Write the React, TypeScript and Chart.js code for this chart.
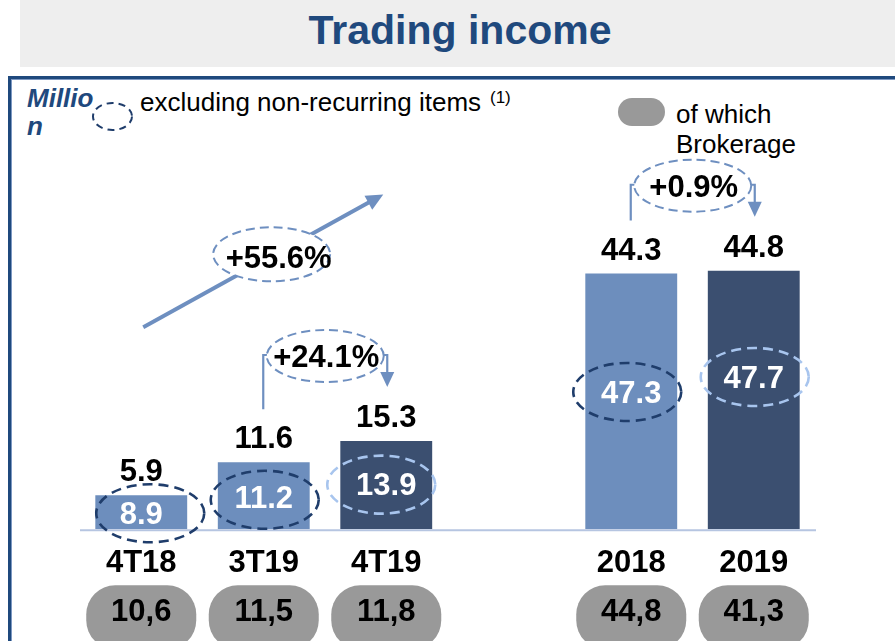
import React, { useEffect, useRef } from 'react';
import { Chart, registerables } from 'chart.js';

Chart.register(...registerables);

// ---- data ----
const categories = ['4T18', '3T19', '4T19', '', '2018', '2019'];
const tradingIncome: (number | null)[] = [5.9, 11.6, 15.3, null, 44.3, 44.8];
const excludingNonRecurring: (number | null)[] = [8.9, 11.2, 13.9, null, 47.3, 47.7];
const brokerage: (number | null)[] = [10.6, 11.5, 11.8, null, 44.8, 41.3];
const growthLabels = ['+55.6%', '+24.1%', '+0.9%'];
const growthFrom = [0, 1, 4];
const growthTo = [2, 2, 5];

// ---- styles ----
const FONT = '"Liberation Sans", Arial, Helvetica, sans-serif';
const LIGHT = '#6d8ebd';
const DARK = '#3b4f70';
const NAVY = '#1f3d6b';
const PALE = '#a8c5ee';
const STEEL = '#6e8fc0';
const TITLE_BLUE = '#1f497d';
const barColors = [LIGHT, LIGHT, DARK, LIGHT, LIGHT, DARK];
const ellipseColors = [NAVY, NAVY, PALE, NAVY, NAVY, PALE];
const innerNudgeY = [1, 1, -1.5, 0, -9.5, -23];
const ellipseDx = [9, 1, -5, 0, -4, 1];
const ellipseDy = [0, 3, 1, 0, 0, 0];
const growthKind = ['diagonal', 'bracket', 'bracket'];

function dashedEllipse(ctx: CanvasRenderingContext2D, x: number, y: number, rx: number, ry: number,
  color: string, lw: number, dash: number[], fill?: string) {
  ctx.save();
  ctx.beginPath();
  ctx.ellipse(x, y, rx, ry, 0, 0, Math.PI * 2);
  if (fill) { ctx.fillStyle = fill; ctx.fill(); }
  ctx.setLineDash(dash);
  ctx.lineWidth = lw;
  ctx.strokeStyle = color;
  ctx.stroke();
  ctx.restore();
}

function arrowHead(ctx: CanvasRenderingContext2D, tx: number, ty: number, angle: number, len: number, half: number, color: string) {
  ctx.save();
  ctx.translate(tx, ty);
  ctx.rotate(angle);
  ctx.beginPath();
  ctx.moveTo(0, 0);
  ctx.lineTo(-len, -half);
  ctx.lineTo(-len, half);
  ctx.closePath();
  ctx.fillStyle = color;
  ctx.fill();
  ctx.restore();
}

const annotPlugin = {
  id: 'annot',
  afterDatasetsDraw(chart: any) {
    const { ctx, chartArea, scales } = chart;
    const xs = scales.x;
    const ys = scales.y;
    const y0 = ys.getPixelForValue(0);
    const cx = (i: number) => xs.getPixelForValue(i);
    const barTop = (i: number) => ys.getPixelForValue(tradingIncome[i] as number);
    const labelTop = (i: number) => barTop(i) - 14 - 22;

    ctx.save();
    // baseline
    ctx.strokeStyle = '#b6c5e1';
    ctx.lineWidth = 2;
    ctx.beginPath();
    ctx.moveTo(chartArea.left, y0 + 1);
    ctx.lineTo(chartArea.right + 1, y0 + 1);
    ctx.stroke();

    ctx.textAlign = 'center';
    ctx.textBaseline = 'alphabetic';

    categories.forEach((c, i) => {
      const v = tradingIncome[i];
      if (v == null) return;
      const x = cx(i);
      const t = barTop(i);
      ctx.font = `bold 31px ${FONT}`;
      ctx.fillStyle = '#000';
      ctx.fillText(v.toFixed(1), x, t - 14);

      const ex = excludingNonRecurring[i];
      if (ex != null) {
        const cy = (t + y0) / 2 + innerNudgeY[i];
        dashedEllipse(ctx, x + ellipseDx[i], cy + ellipseDy[i], 54, 29, ellipseColors[i], 2.6, [10, 6]);
        ctx.fillStyle = '#fff';
        ctx.fillText(ex.toFixed(1), x, cy + 11);
      }

      ctx.fillStyle = '#000';
      ctx.fillText(c, x, y0 + 43);

      const b = brokerage[i];
      if (b != null) {
        ctx.beginPath();
        ctx.roundRect(x - 55, y0 + 56, 110, 64, 29);
        ctx.fillStyle = '#999999';
        ctx.fill();
        ctx.fillStyle = '#000';
        ctx.fillText(b.toFixed(1).replace('.', ','), x, y0 + 92);
      }
    });

    // growth annotations
    growthLabels.forEach((txt, k) => {
      const a = growthFrom[k];
      const b = growthTo[k];
      if (growthKind[k] === 'diagonal') {
        const x1 = cx(a) + 2, y1 = ys.getPixelForValue(35);
        const x2 = cx(b) - 3, y2 = ys.getPixelForValue(58);
        const ang = Math.atan2(y2 - y1, x2 - x1);
        ctx.strokeStyle = STEEL;
        ctx.lineWidth = 4;
        ctx.beginPath();
        ctx.moveTo(x1, y1);
        ctx.lineTo(x2 - Math.cos(ang) * 12, y2 - Math.sin(ang) * 12);
        ctx.stroke();
        arrowHead(ctx, x2, y2, ang, 17, 8, STEEL);
        const t = 0.535;
        const ecx = x1 + (x2 - x1) * t;
        const ecy = y1 + (y2 - y1) * t - 2;
        dashedEllipse(ctx, ecx, ecy, 58.5, 27, STEEL, 2, [9, 5], '#fff');
        ctx.font = `bold 31px ${FONT}`;
        ctx.fillStyle = '#000';
        ctx.fillText(txt, ecx + 7, ecy + 14);
      } else {
        const xa = cx(a) - 0.5;
        const xb = cx(b) + 1;
        const by = Math.min(labelTop(a), labelTop(b)) - 50;
        const tipY = labelTop(b) - 18;
        ctx.strokeStyle = STEEL;
        ctx.lineWidth = 2.2;
        ctx.beginPath();
        ctx.moveTo(xa, labelTop(a) - 17);
        ctx.lineTo(xa, by);
        ctx.lineTo(xb, by);
        ctx.lineTo(xb, tipY - 12);
        ctx.stroke();
        arrowHead(ctx, xb, tipY, Math.PI / 2, 15, 7, STEEL);
        const ecx = (xa + xb) / 2;
        dashedEllipse(ctx, ecx, by + 1, 58.5, 26, STEEL, 2, [9, 5], '#fff');
        ctx.font = `bold 31px ${FONT}`;
        ctx.fillStyle = '#000';
        ctx.fillText(txt, ecx + 1, by + 12);
      }
    });

    // legend ellipse icon
    dashedEllipse(ctx, 112.5, 116.5, 19.5, 13.5, NAVY, 2, [7, 5]);
    ctx.restore();
  },
};

export default function App() {
  const ref = useRef<HTMLCanvasElement | null>(null);

  useEffect(() => {
    if (!ref.current) return;
    const chart = new Chart(ref.current, {
      type: 'bar',
      data: {
        labels: categories,
        datasets: [
          {
            label: 'Trading income',
            data: tradingIncome as any,
            backgroundColor: barColors,
            borderWidth: 0,
            barPercentage: 0.75,
            categoryPercentage: 1,
          },
        ],
      },
      options: {
        responsive: false,
        animation: false,
        devicePixelRatio: 1,
        layout: { padding: { left: 80, right: 80, top: 183, bottom: 111.7 } },
        plugins: { legend: { display: false }, tooltip: { enabled: false }, title: { display: false } },
        scales: {
          x: { display: false },
          y: { display: false, min: 0, max: 60 },
        },
      },
      plugins: [annotPlugin],
    });
    return () => chart.destroy();
  }, []);

  return (
    <div style={{ position: 'fixed', left: 0, top: 0, width: 895, height: 641, overflow: 'hidden', background: '#fff', fontFamily: FONT }}>
      <div style={{ position: 'absolute', left: 20, top: 0, width: 875, height: 67, background: '#eeeeee' }} />
      <div style={{ position: 'absolute', left: 20, top: 10, width: 880, textAlign: 'center', fontSize: 41, lineHeight: '41px', fontWeight: 'bold', color: TITLE_BLUE }}>
        Trading income
      </div>
      <div style={{ position: 'absolute', left: 8, top: 76, width: 887, height: 3, background: TITLE_BLUE }} />
      <div style={{ position: 'absolute', left: 8, top: 79, width: 887, height: 1, background: '#7d98c2' }} />
      <div style={{ position: 'absolute', left: 8, top: 76, width: 3, height: 565, background: TITLE_BLUE }} />
      <div style={{ position: 'absolute', left: 11, top: 79, width: 1, height: 562, background: '#7d98c2' }} />
      <div style={{ position: 'absolute', left: 27, top: 84, width: 72, fontSize: 26, lineHeight: '28px', fontWeight: 'bold', fontStyle: 'italic', color: TITLE_BLUE, wordBreak: 'break-all' }}>
        Million
      </div>
      <div style={{ position: 'absolute', left: 140, top: 87, fontSize: 26, lineHeight: '30px', color: '#000', whiteSpace: 'nowrap' }}>
        excluding non-recurring items
      </div>
      <div style={{ position: 'absolute', left: 490, top: 89, fontSize: 17, lineHeight: '17px', color: '#000' }}>(1)</div>
      <div style={{ position: 'absolute', left: 618, top: 98, width: 47, height: 28, borderRadius: 14, background: '#999999' }} />
      <div style={{ position: 'absolute', left: 676, top: 99, width: 130, fontSize: 26, lineHeight: '30px', color: '#000' }}>
        of which Brokerage
      </div>
      <canvas ref={ref} width={895} height={641} style={{ position: 'absolute', left: 0, top: 0, width: 895, height: 641, zIndex: 1 }} />
    </div>
  );
}
